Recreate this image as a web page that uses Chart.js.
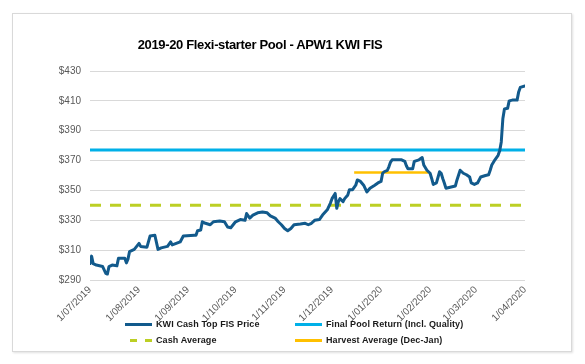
<!DOCTYPE html>
<html>
<head>
<meta charset="utf-8">
<script src="https://cdn.jsdelivr.net/npm/chart.js@4.4.1/dist/chart.umd.min.js"></script>
<style>
  html, body { margin: 0; padding: 0; background: #fff; }
  body { width: 585px; height: 364px; position: relative; overflow: hidden; font-family: "Liberation Sans", Arial, sans-serif; }
  #frame { position: absolute; left: 12px; top: 13px; width: 558px; height: 337px; border: 1px solid #d9d9d9; box-shadow: 1px 1px 2px rgba(0,0,0,0.12); }
  #c { position: absolute; left: 0; top: 0; }
  #title { position: absolute; left: 0; top: 37px; width: 520px; text-align: center; font-weight: bold; font-size: 13px; letter-spacing: -0.35px; color: #000; white-space: nowrap; }
  .lg { position: absolute; font-size: 9px; font-weight: bold; color: #1a1a1a; white-space: nowrap; line-height: 12px; letter-spacing: 0.1px; }
  .sw { position: absolute; height: 3px; }
</style>
</head>
<body>
<div id="frame"></div>
<canvas id="c" width="585" height="364"></canvas>
<div id="title"></div>
<div id="legend"></div>
<script>
// ---- data ----
const chartTitle = "2019-20 Flexi-starter Pool - APW1 KWI FIS";
const seriesNames = ["KWI Cash Top FIS Price", "Final Pool Return (Incl. Quality)", "Cash Average", "Harvest Average (Dec-Jan)"];

const priceDates = [
  "2019-07-01","2019-07-02","2019-07-03","2019-07-05","2019-07-09","2019-07-11","2019-07-12","2019-07-13","2019-07-15","2019-07-18",
  "2019-07-19","2019-07-23","2019-07-24","2019-07-25","2019-07-26","2019-07-29","2019-08-01","2019-08-02","2019-08-06","2019-08-08",
  "2019-08-11","2019-08-13","2019-08-15","2019-08-19","2019-08-21","2019-08-22","2019-08-27","2019-08-29","2019-09-05","2019-09-06",
  "2019-09-07","2019-09-09","2019-09-10","2019-09-12","2019-09-15","2019-09-17","2019-09-21","2019-09-24","2019-09-26","2019-09-28",
  "2019-10-01","2019-10-04","2019-10-07","2019-10-08","2019-10-10","2019-10-12","2019-10-15","2019-10-18","2019-10-21","2019-10-23",
  "2019-10-26","2019-10-28","2019-10-30","2019-11-01","2019-11-03","2019-11-05","2019-11-07","2019-11-11","2019-11-14","2019-11-16",
  "2019-11-18","2019-11-20","2019-11-23","2019-11-25","2019-11-28","2019-11-30","2019-12-01","2019-12-03","2019-12-04","2019-12-05",
  "2019-12-06","2019-12-08","2019-12-09","2019-12-11","2019-12-12","2019-12-14","2019-12-16","2019-12-17","2019-12-19","2019-12-21",
  "2019-12-23","2019-12-25","2019-12-28","2019-12-30","2020-01-01","2020-01-02","2020-01-03","2020-01-05","2020-01-06","2020-01-07",
  "2020-01-08","2020-01-14","2020-01-16","2020-01-17","2020-01-18","2020-01-21","2020-01-22","2020-01-25","2020-01-27","2020-01-28",
  "2020-01-30","2020-02-01","2020-02-02","2020-02-03","2020-02-05","2020-02-07","2020-02-08","2020-02-09","2020-02-10","2020-02-11",
  "2020-02-13","2020-02-17","2020-02-18","2020-02-20","2020-02-22","2020-02-24","2020-02-26","2020-02-27","2020-02-29","2020-03-02",
  "2020-03-04","2020-03-07","2020-03-09","2020-03-10","2020-03-11","2020-03-13","2020-03-15","2020-03-16","2020-03-17","2020-03-18",
  "2020-03-19","2020-03-21","2020-03-22","2020-03-24","2020-03-27","2020-03-28","2020-03-29","2020-04-01"
];
const priceValues = [
  301,306,301,300,299,294.5,294,299,300,299.5,
  304.5,304.5,301.5,304,309,310.5,314.5,312.5,312,319.5,
  320,310.5,311.5,312.5,315.5,313.5,315.5,319.5,320,320,
  323,323.5,329,328,327,329,329.5,329,325.5,325,
  329,330.5,330,334.5,331.5,333.5,335,335.5,335,333,
  331.5,329,327,324.5,323,324.5,327,327.5,328,327,
  328,330,330.5,333.5,337,341.5,344.5,348,338,342.5,
  344.5,342.5,344.5,347,350.5,350.5,353.5,357,356,353.5,
  349,351.5,353.5,355,356,361.5,362.5,363.5,366,369,
  370.5,370.5,369.5,366.5,364.5,364.5,369.5,370.5,372,367,
  363.5,361.5,358,354,355,362.5,361.5,358,355,351.5,
  352,353,357,363.5,361.5,360.5,359,355,354,355,
  359,360,360.5,363.5,367,370.5,373.5,376.5,382.5,398,
  404.5,405,410,410.5,410.5,416,419,420
];

const finalPoolDates = ["2019-07-01", "2020-04-01"];
const finalPoolValues = [377, 377];
const cashAvgDates = ["2019-07-01", "2020-04-01"];
const cashAvgValues = [340, 340];
const harvestDates = ["2019-12-15", "2020-01-31"];
const harvestValues = [362, 362];

const xTickDates = ["2019-07-01","2019-08-01","2019-09-01","2019-10-01","2019-11-01","2019-12-01","2020-01-01","2020-02-01","2020-03-01","2020-04-01"];
const xTickLabels = ["1/07/2019","1/08/2019","1/09/2019","1/10/2019","1/11/2019","1/12/2019","1/01/2020","1/02/2020","1/03/2020","1/04/2020"];
const yTickValues = [290, 310, 330, 350, 370, 390, 410, 430];

const colors = ["#125a8c", "#00b0e8", "#bccf24", "#ffc000"];

// ---- helpers ----
const START = Date.UTC(2019, 6, 1);
function dayOf(s) { const p = s.split("-"); return (Date.UTC(+p[0], +p[1] - 1, +p[2]) - START) / 86400000; }
function pts(dates, vals) { return dates.map((d, i) => ({ x: dayOf(d), y: vals[i] })); }
const xTickDays = xTickDates.map(dayOf);

// title
document.getElementById("title").textContent = chartTitle;

// legend (HTML, real text)
const lg = document.getElementById("legend");
const legendPos = [
  { sx: 125, tx: 156, y: 324 },
  { sx: 295, tx: 326, y: 324 },
  { sx: 125, tx: 156, y: 340 },
  { sx: 295, tx: 326, y: 340 }
];
seriesNames.forEach((name, i) => {
  const p = legendPos[i];
  if (i === 2) {
    [[130, 7], [145, 7]].forEach(([l, w]) => {
      const s = document.createElement("div");
      s.className = "sw"; s.style.left = l + "px"; s.style.width = w + "px"; s.style.top = (p.y - 1.5) + "px"; s.style.background = colors[i];
      lg.appendChild(s);
    });
  } else {
    const s = document.createElement("div");
    s.className = "sw"; s.style.left = p.sx + "px"; s.style.width = "27px"; s.style.top = (p.y - 1.5) + "px"; s.style.background = colors[i];
    lg.appendChild(s);
  }
  const tx = document.createElement("div");
  tx.className = "lg"; tx.textContent = name; tx.style.left = p.tx + "px"; tx.style.top = (p.y - 6) + "px";
  lg.appendChild(tx);
});

new Chart(document.getElementById("c"), {
  type: "line",
  data: {
    datasets: [
      { label: seriesNames[0], data: pts(priceDates, priceValues), borderColor: colors[0], borderWidth: 3, pointRadius: 0, tension: 0, borderJoinStyle: "round", borderCapStyle: "round" },
      { label: seriesNames[1], data: pts(finalPoolDates, finalPoolValues), borderColor: colors[1], borderWidth: 3, pointRadius: 0 },
      { label: seriesNames[2], data: pts(cashAvgDates, cashAvgValues), borderColor: colors[2], borderWidth: 3, borderDash: [11, 9], pointRadius: 0 },
      { label: seriesNames[3], data: pts(harvestDates, harvestValues), borderColor: colors[3], borderWidth: 2.5, pointRadius: 0 }
    ]
  },
  options: {
    responsive: false,
    animation: false,
    events: [],
    layout: { padding: { left: 0, top: 71, right: 60, bottom: 0 } },
    plugins: { legend: { display: false }, title: { display: false }, tooltip: { enabled: false } },
    scales: {
      x: {
        type: "linear", min: 0, max: xTickDays[xTickDays.length - 1],
        afterBuildTicks: (s) => { s.ticks = xTickDays.map(v => ({ value: v })); },
        afterFit: (s) => { s.height = 84; },
        grid: { display: false, drawTicks: false },
        border: { display: false },
        ticks: {
          autoSkip: false, minRotation: 45, maxRotation: 45, padding: 4,
          color: "#595959", font: { family: "Liberation Sans", size: 10 },
          callback: (v, i) => xTickLabels[i]
        }
      },
      y: {
        min: 290, max: 430,
        afterBuildTicks: (s) => { s.ticks = yTickValues.map(v => ({ value: v })); },
        afterFit: (s) => { s.width = 90; },
        grid: { color: "#d9d9d9", lineWidth: 1, drawTicks: false },
        border: { display: false },
        ticks: { padding: 9, color: "#595959", font: { family: "Liberation Sans", size: 10 }, callback: (v) => "$" + v }
      }
    }
  }
});
</script>
</body>
</html>
